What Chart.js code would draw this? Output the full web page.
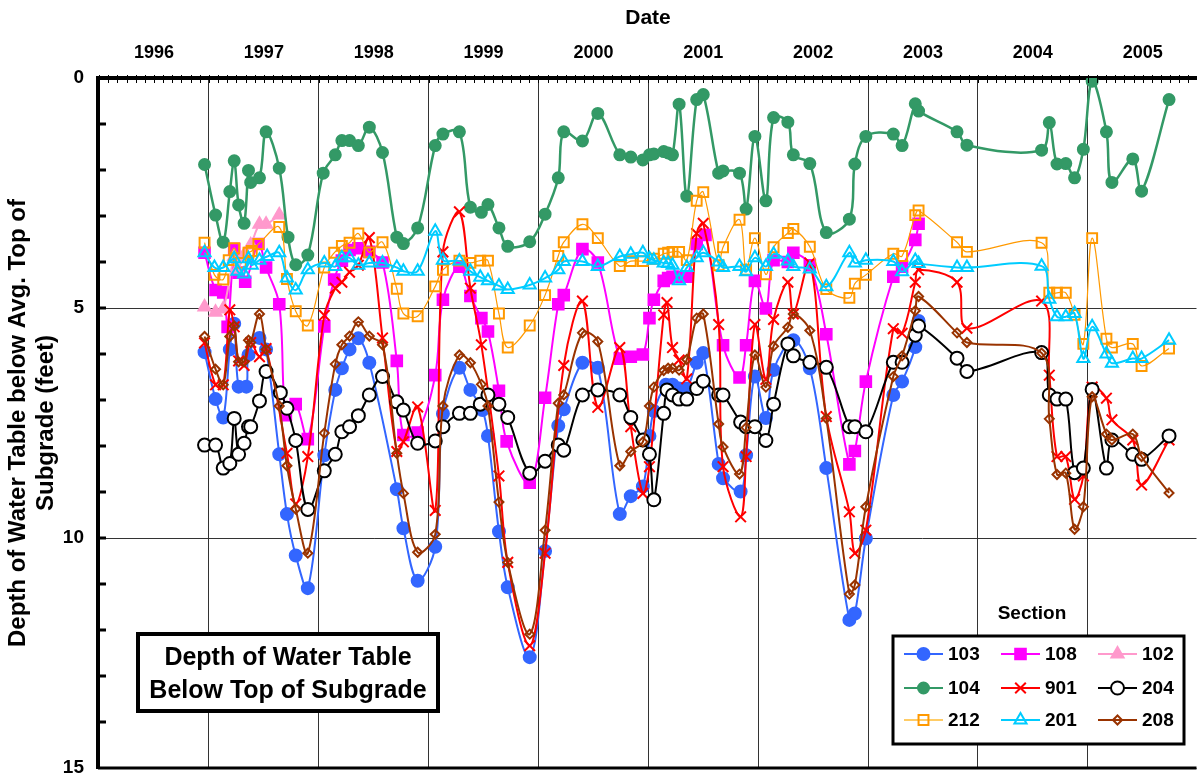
<!DOCTYPE html>
<html>
<head>
<meta charset="utf-8">
<script src="https://cdn.jsdelivr.net/npm/chart.js@4.4.1/dist/chart.umd.min.js"></script>
<style>
  html, body { margin: 0; padding: 0; background: #fff; overflow: hidden; }
  #wrap { width: 1206px; height: 780px; }
</style>
</head>
<body>
<div id="wrap"><canvas id="chart"></canvas></div>
<script>
// ---------- DATA (x = decimal year, y = depth in feet) ----------
const yearLabels = ["1996", "1997", "1998", "1999", "2000", "2001", "2002", "2003", "2004", "2005"];
const depthTicks = [0, 5, 10, 15];

const sec103 = [[1996.96,5.96],[1997.06,6.98],[1997.13,7.38],[1997.19,5.90],[1997.23,5.34],[1997.27,6.71],[1997.34,6.71],[1997.36,6.02],[1997.46,5.65],[1997.52,5.90],[1997.64,8.18],[1997.71,9.48],[1997.79,10.38],[1997.90,11.09],[1998.05,8.20],[1998.15,6.78],[1998.21,6.31],[1998.28,5.90],[1998.36,5.66],[1998.46,6.19],[1998.71,8.94],[1998.77,9.79],[1998.90,10.93],[1999.06,10.19],[1999.13,7.30],[1999.28,6.30],[1999.38,6.78],[1999.49,7.22],[1999.54,7.78],[1999.64,9.86],[1999.72,11.07],[1999.92,12.59],[2000.06,10.28],[2000.18,7.56],[2000.23,7.20],[2000.40,6.19],[2000.54,6.30],[2000.74,9.48],[2000.84,9.09],[2000.95,8.88],[2001.01,7.78],[2001.05,7.24],[2001.16,6.67],[2001.22,6.67],[2001.28,6.75],[2001.35,6.75],[2001.44,6.19],[2001.50,5.98],[2001.64,8.39],[2001.68,8.70],[2001.84,8.99],[2001.89,8.20],[2001.97,6.49],[2002.07,7.39],[2002.14,6.35],[2002.32,5.70],[2002.47,6.31],[2002.62,8.48],[2002.83,11.78],[2002.88,11.64],[2002.98,10.01],[2003.23,6.89],[2003.31,6.60],[2003.43,5.85],[2003.46,5.28]];

const sec108 = [[1996.96,3.80],[1997.06,4.61],[1997.13,4.66],[1997.17,5.41],[1997.23,3.72],[1997.27,4.23],[1997.33,4.43],[1997.45,3.61],[1997.52,4.12],[1997.64,4.92],[1997.70,7.33],[1997.79,7.09],[1997.90,7.85],[1998.05,5.40],[1998.14,4.38],[1998.21,3.97],[1998.28,3.74],[1998.36,3.70],[1998.46,3.78],[1998.58,4.01],[1998.71,6.15],[1998.77,7.76],[1998.90,7.71],[1999.06,6.46],[1999.13,4.82],[1999.28,4.10],[1999.38,4.74],[1999.48,5.22],[1999.54,5.51],[1999.64,6.80],[1999.71,7.90],[1999.92,8.80],[2000.06,6.95],[2000.18,4.92],[2000.23,4.72],[2000.40,3.72],[2000.54,4.01],[2000.74,6.10],[2000.84,6.06],[2000.95,6.01],[2001.01,5.22],[2001.05,4.82],[2001.14,4.41],[2001.18,4.35],[2001.22,4.32],[2001.28,4.32],[2001.35,4.32],[2001.44,3.61],[2001.52,3.41],[2001.68,5.81],[2001.83,6.51],[2001.89,5.81],[2001.97,4.41],[2002.07,5.01],[2002.14,3.96],[2002.27,4.00],[2002.32,3.80],[2002.47,4.07],[2002.62,5.57],[2002.83,8.40],[2002.88,8.11],[2002.98,6.60],[2003.23,4.32],[2003.31,4.10],[2003.43,3.52],[2003.46,3.17]];

const sec102 = [[1996.96,4.98],[1997.06,5.09],[1997.13,5.02],[1997.23,3.88],[1997.26,4.16],[1997.32,3.85],[1997.38,3.63],[1997.46,3.18],[1997.52,3.18],[1997.64,2.98]];

const sec104 = [[1996.96,1.88],[1997.06,2.98],[1997.13,3.57],[1997.19,2.47],[1997.23,1.80],[1997.27,2.76],[1997.32,3.16],[1997.36,2.01],[1997.38,2.27],[1997.46,2.17],[1997.52,1.17],[1997.64,1.96],[1997.72,3.46],[1997.79,4.06],[1997.90,3.85],[1998.04,2.07],[1998.15,1.67],[1998.21,1.36],[1998.28,1.36],[1998.36,1.47],[1998.46,1.07],[1998.58,1.62],[1998.71,3.46],[1998.77,3.60],[1998.90,3.26],[1999.06,1.47],[1999.13,1.22],[1999.28,1.17],[1999.38,2.81],[1999.48,2.92],[1999.54,2.75],[1999.64,3.26],[1999.72,3.66],[1999.92,3.56],[2000.06,2.96],[2000.18,2.17],[2000.23,1.17],[2000.40,1.37],[2000.54,0.77],[2000.74,1.67],[2000.84,1.72],[2000.95,1.78],[2001.01,1.67],[2001.05,1.65],[2001.14,1.60],[2001.18,1.63],[2001.22,1.67],[2001.28,0.57],[2001.35,2.57],[2001.44,0.47],[2001.50,0.36],[2001.64,2.07],[2001.68,2.02],[2001.83,2.07],[2001.89,2.85],[2001.97,1.27],[2002.07,2.67],[2002.14,0.86],[2002.27,0.96],[2002.32,1.67],[2002.47,1.86],[2002.62,3.36],[2002.83,3.07],[2002.88,1.87],[2002.98,1.27],[2003.23,1.22],[2003.31,1.47],[2003.43,0.56],[2003.46,0.72],[2003.81,1.17],[2003.90,1.46],[2004.58,1.57],[2004.65,0.97],[2004.72,1.87],[2004.80,1.86],[2004.88,2.17],[2004.96,1.55],[2005.04,0.07],[2005.17,1.17],[2005.22,2.27],[2005.41,1.76],[2005.49,2.46],[2005.74,0.47]];

const sec901 = [[1996.96,5.76],[1997.06,6.67],[1997.13,6.67],[1997.19,5.04],[1997.23,5.41],[1997.27,6.15],[1997.32,6.25],[1997.38,5.75],[1997.46,6.06],[1997.52,5.88],[1997.71,8.16],[1997.79,9.26],[1997.90,8.23],[1998.05,5.16],[1998.15,4.57],[1998.21,4.44],[1998.28,4.22],[1998.36,4.07],[1998.46,3.47],[1998.58,5.65],[1998.71,8.12],[1998.77,7.91],[1998.90,7.15],[1999.06,9.40],[1999.13,3.78],[1999.28,2.91],[1999.38,4.57],[1999.48,5.80],[1999.64,8.65],[1999.72,10.53],[1999.92,12.34],[2000.06,10.33],[2000.23,6.25],[2000.40,4.85],[2000.54,7.16],[2000.74,5.86],[2000.84,7.58],[2000.95,9.03],[2001.01,8.45],[2001.14,5.15],[2001.17,4.88],[2001.22,5.86],[2001.28,6.13],[2001.35,6.54],[2001.44,3.38],[2001.50,3.16],[2001.64,5.36],[2001.68,8.45],[2001.84,9.54],[2001.89,8.23],[2001.97,5.36],[2002.07,6.55],[2002.14,5.25],[2002.27,4.44],[2002.32,5.13],[2002.47,4.02],[2002.62,7.36],[2002.83,9.43],[2002.88,10.33],[2002.98,9.83],[2003.23,5.45],[2003.31,5.55],[2003.43,4.44],[2003.46,4.17],[2003.81,4.44],[2003.90,5.44],[2004.58,4.85],[2004.65,6.46],[2004.72,8.23],[2004.80,8.23],[2004.88,9.16],[2004.96,8.65],[2005.04,6.72],[2005.17,6.96],[2005.22,7.43],[2005.41,7.87],[2005.49,8.85],[2005.74,7.87]];

const sec204 = [[1996.96,7.98],[1997.06,7.98],[1997.13,8.48],[1997.19,8.38],[1997.23,7.40],[1997.27,8.18],[1997.32,7.94],[1997.36,7.58],[1997.38,7.58],[1997.46,7.02],[1997.52,6.38],[1997.65,6.84],[1997.71,7.18],[1997.79,7.88],[1997.90,9.38],[1998.05,8.54],[1998.15,8.18],[1998.21,7.69],[1998.28,7.58],[1998.36,7.34],[1998.46,6.89],[1998.58,6.49],[1998.71,7.04],[1998.77,7.22],[1998.90,7.94],[1999.06,7.89],[1999.13,7.58],[1999.28,7.29],[1999.38,7.29],[1999.47,7.09],[1999.54,6.89],[1999.64,7.09],[1999.72,7.38],[1999.92,8.59],[2000.06,8.33],[2000.18,7.98],[2000.23,8.09],[2000.40,6.89],[2000.54,6.78],[2000.74,6.89],[2000.84,7.38],[2000.95,7.87],[2001.01,8.18],[2001.05,9.17],[2001.14,7.29],[2001.17,6.78],[2001.22,6.89],[2001.28,6.98],[2001.35,6.98],[2001.44,6.75],[2001.50,6.59],[2001.64,6.89],[2001.68,6.89],[2001.84,7.48],[2001.89,7.58],[2001.97,7.58],[2002.07,7.88],[2002.14,7.09],[2002.27,5.78],[2002.32,6.04],[2002.47,6.18],[2002.62,6.29],[2002.83,7.58],[2002.88,7.58],[2002.98,7.69],[2003.23,6.18],[2003.31,6.18],[2003.43,5.59],[2003.46,5.39],[2003.81,6.09],[2003.90,6.38],[2004.58,5.97],[2004.65,6.89],[2004.72,6.98],[2004.80,6.98],[2004.88,8.58],[2004.96,8.48],[2005.04,6.77],[2005.17,8.48],[2005.22,7.87],[2005.41,8.18],[2005.49,8.29],[2005.74,7.78]];

const sec212 = [[1996.96,3.58],[1997.05,4.28],[1997.13,4.38],[1997.18,3.96],[1997.23,3.70],[1997.29,4.02],[1997.36,3.80],[1997.39,3.76],[1997.45,3.61],[1997.64,3.24],[1997.71,4.37],[1997.79,5.07],[1997.90,5.38],[1998.05,4.12],[1998.14,3.80],[1998.21,3.65],[1998.28,3.58],[1998.36,3.38],[1998.46,3.79],[1998.58,3.57],[1998.71,4.58],[1998.77,5.12],[1998.90,5.18],[1999.06,4.53],[1999.13,4.17],[1999.28,3.97],[1999.38,4.02],[1999.47,3.97],[1999.54,3.97],[1999.64,5.12],[1999.72,5.86],[1999.92,5.38],[2000.06,4.72],[2000.18,3.87],[2000.23,3.57],[2000.40,3.18],[2000.54,3.48],[2000.74,4.09],[2000.84,3.98],[2000.95,3.98],[2001.05,3.93],[2001.14,3.82],[2001.18,3.80],[2001.22,3.78],[2001.28,3.78],[2001.35,3.96],[2001.44,2.67],[2001.50,2.48],[2001.64,4.07],[2001.68,3.68],[2001.83,3.08],[2001.89,4.17],[2001.97,3.48],[2002.07,4.27],[2002.14,3.68],[2002.27,3.37],[2002.32,3.28],[2002.47,3.67],[2002.62,4.59],[2002.83,4.78],[2002.88,4.47],[2002.98,4.28],[2003.23,3.82],[2003.31,3.87],[2003.43,2.98],[2003.46,2.88],[2003.81,3.57],[2003.90,3.78],[2004.58,3.58],[2004.65,4.67],[2004.72,4.67],[2004.80,4.67],[2004.88,5.15],[2004.96,5.78],[2005.04,3.48],[2005.17,5.67],[2005.22,5.86],[2005.41,5.78],[2005.49,6.26],[2005.74,5.88]];

const sec201 = [[1996.96,3.80],[1997.05,4.12],[1997.13,4.12],[1997.23,3.93],[1997.26,4.20],[1997.32,4.26],[1997.36,3.93],[1997.39,4.07],[1997.46,3.96],[1997.53,3.88],[1997.64,3.80],[1997.71,4.35],[1997.79,4.61],[1997.90,4.17],[1998.05,4.02],[1998.15,4.10],[1998.21,3.91],[1998.28,3.91],[1998.36,4.07],[1998.46,4.02],[1998.58,4.02],[1998.71,4.12],[1998.77,4.20],[1998.90,4.20],[1999.06,3.33],[1999.13,3.96],[1999.28,3.98],[1999.38,4.20],[1999.47,4.33],[1999.54,4.41],[1999.64,4.52],[1999.72,4.60],[1999.92,4.50],[2000.06,4.35],[2000.18,4.17],[2000.23,3.99],[2000.40,3.99],[2000.54,4.10],[2000.74,3.88],[2000.84,3.83],[2000.95,3.80],[2001.01,3.93],[2001.05,3.96],[2001.14,4.02],[2001.18,4.03],[2001.22,4.07],[2001.28,4.41],[2001.35,4.12],[2001.44,3.91],[2001.50,3.80],[2001.64,4.00],[2001.68,4.12],[2001.83,4.10],[2001.89,4.21],[2001.97,3.91],[2002.07,4.10],[2002.14,3.83],[2002.27,3.98],[2002.32,4.10],[2002.47,4.15],[2002.62,4.54],[2002.83,3.80],[2002.88,4.02],[2002.98,3.96],[2003.23,3.99],[2003.31,4.21],[2003.43,3.97],[2003.46,4.03],[2003.81,4.12],[2003.90,4.12],[2004.58,4.09],[2004.65,4.81],[2004.72,5.19],[2004.80,5.19],[2004.88,5.12],[2004.96,6.10],[2005.04,5.41],[2005.17,6.00],[2005.22,6.20],[2005.41,6.10],[2005.49,6.10],[2005.74,5.70]];

const sec208 = [[1996.96,5.62],[1997.06,6.33],[1997.13,6.67],[1997.19,5.62],[1997.23,5.39],[1997.27,6.17],[1997.32,6.17],[1997.36,5.70],[1997.38,5.75],[1997.46,5.13],[1997.52,5.90],[1997.64,7.13],[1997.71,8.43],[1997.79,9.37],[1997.90,10.33],[1998.05,7.72],[1998.15,6.22],[1998.21,5.80],[1998.28,5.61],[1998.36,5.30],[1998.46,5.61],[1998.58,5.80],[1998.71,8.16],[1998.77,9.03],[1998.90,10.31],[1999.06,9.92],[1999.13,7.13],[1999.28,6.02],[1999.38,6.19],[1999.48,6.66],[1999.54,7.13],[1999.64,9.22],[1999.72,10.53],[1999.92,12.09],[2000.06,9.83],[2000.18,7.07],[2000.23,6.89],[2000.40,5.54],[2000.54,5.73],[2000.74,8.43],[2000.84,8.12],[2000.95,7.91],[2001.01,7.13],[2001.05,6.72],[2001.14,6.36],[2001.18,6.31],[2001.22,6.31],[2001.28,6.35],[2001.35,6.12],[2001.44,5.22],[2001.50,5.13],[2001.64,7.52],[2001.68,8.02],[2001.83,8.61],[2001.89,7.60],[2001.97,6.02],[2002.07,6.72],[2002.14,5.83],[2002.27,5.42],[2002.32,5.13],[2002.47,5.49],[2002.62,7.40],[2002.83,11.22],[2002.88,11.02],[2002.98,9.32],[2003.23,6.49],[2003.31,6.04],[2003.43,5.06],[2003.46,4.75],[2003.81,5.54],[2003.90,5.75],[2004.58,5.98],[2004.65,7.41],[2004.72,8.62],[2004.80,8.59],[2004.88,9.81],[2004.96,9.32],[2005.04,6.93],[2005.17,7.74],[2005.22,7.87],[2005.41,7.74],[2005.49,8.23],[2005.74,9.02]];

// ---------- SERIES STYLE ----------
const FONT = '"Liberation Sans", Arial, sans-serif';
const series = [
  { label: "103", data: sec103, color: "#3366FF", style: "circle",   r: 6,   fill: "#3366FF", lw: 2 },
  { label: "108", data: sec108, color: "#FF00FF", style: "rect",     r: 7.5, fill: "#FF00FF", lw: 2 },
  { label: "102", data: sec102, color: "#FF99CC", style: "triangle", r: 7,   fill: "#FF99CC", lw: 2 },
  { label: "104", data: sec104, color: "#339966", style: "circle",   r: 5.5, fill: "#339966", lw: 2.5 },
  { label: "901", data: sec901, color: "#FF0000", style: "crossRot", r: 7.5, fill: "#FF0000", lw: 2 },
  { label: "204", data: sec204, color: "#000000", style: "circle",   r: 6.5, fill: "#FFFFFF", lw: 2 },
  { label: "212", data: sec212, color: "#FF9900", style: "rect",     r: 7,   fill: "rgba(0,0,0,0)", lw: 1.2 },
  { label: "201", data: sec201, color: "#00CCFF", style: "triangle", r: 7,   fill: "rgba(0,0,0,0)", lw: 2 },
  { label: "208", data: sec208, color: "#993300", style: "rectRot",  r: 4.5, fill: "rgba(0,0,0,0)", lw: 2 }
];

// ---------- OVERLAY: axis ticks, titles, boxes, legend ----------
const overlay = {
  id: "overlay",
  afterDraw(chart) {
    const { ctx, chartArea: a, scales: { x, y } } = chart;
    ctx.save();
    ctx.strokeStyle = "#000";
    ctx.lineWidth = 1;
    // monthly ticks on the top axis
    for (let m = 0; m <= 120; m++) {
      const px = Math.round(x.getPixelForValue(1996 + m / 12)) + 0.5;
      ctx.beginPath(); ctx.moveTo(px, a.top - 3); ctx.lineTo(px, a.top + 5); ctx.stroke();
    }
    // one-foot ticks on the left axis
    ctx.lineWidth = 3;
    for (let d = 1; d < 15; d++) {
      const py = y.getPixelForValue(d);
      ctx.beginPath(); ctx.moveTo(a.left - 1, py); ctx.lineTo(a.left + 8, py); ctx.stroke();
    }
    // bottom axis line
    ctx.lineWidth = 3;
    ctx.beginPath(); ctx.moveTo(a.left, a.bottom); ctx.lineTo(a.right, a.bottom); ctx.stroke();

    ctx.fillStyle = "#000";
    ctx.textAlign = "center";
    ctx.textBaseline = "middle";
    // x axis title
    ctx.font = "bold 21px " + FONT;
    ctx.fillText("Date", 648, 18);
    // y axis title (two lines)
    ctx.font = "bold 24px " + FONT;
    ctx.save(); ctx.translate(18, 423); ctx.rotate(-Math.PI / 2);
    ctx.fillText("Depth of Water Table below Avg. Top of", 0, 0); ctx.restore();
    ctx.save(); ctx.translate(46, 423); ctx.rotate(-Math.PI / 2);
    ctx.fillText("Subgrade (feet)", 0, 0); ctx.restore();

    // title box
    ctx.fillStyle = "#fff"; ctx.fillRect(138, 634, 300, 77);
    ctx.lineWidth = 4; ctx.strokeRect(138, 634, 300, 77);
    ctx.fillStyle = "#000";
    ctx.font = "bold 25px " + FONT;
    ctx.fillText("Depth of Water Table", 288, 658);
    ctx.fillText("Below Top of Subgrade", 288, 691);

    // legend
    ctx.font = "bold 19px " + FONT;
    ctx.fillText("Section", 1032, 614);
    ctx.fillStyle = "#fff"; ctx.fillRect(893, 636, 291, 108);
    ctx.lineWidth = 3; ctx.strokeRect(893, 636, 291, 108);
    const colX = [904, 1001, 1098];
    const rowY = [654, 688, 720];
    ctx.textAlign = "left";
    series.forEach((s, i) => {
      const cx = colX[i % 3], cy = rowY[Math.floor(i / 3)];
      ctx.strokeStyle = s.label === "212" ? "#FFCC66" : s.color;
      ctx.lineWidth = 2;
      ctx.beginPath(); ctx.moveTo(cx, cy); ctx.lineTo(cx + 39, cy); ctx.stroke();
      ctx.strokeStyle = s.color;
      ctx.fillStyle = s.fill;
      Chart.helpers.drawPoint(ctx, { pointStyle: s.style, radius: s.r, borderWidth: 2, rotation: 0 }, cx + 19.5, cy);
      ctx.fillStyle = "#000";
      ctx.fillText(s.label, cx + 44, cy + 1);
    });
    ctx.restore();
  }
};

// ---------- CHART ----------
new Chart(document.getElementById("chart"), {
  type: "line",
  data: {
    datasets: series.map((s, i) => ({
      label: s.label,
      data: s.data.map(p => ({ x: p[0], y: p[1] })),
      borderColor: s.color,
      borderWidth: s.lw,
      backgroundColor: s.fill,
      pointStyle: s.style,
      pointRadius: s.r,
      pointBorderColor: s.color,
      pointBackgroundColor: s.fill,
      pointBorderWidth: 2,
      tension: 0.35,
      fill: false,
      order: series.length - i
    }))
  },
  options: {
    responsive: true,
    maintainAspectRatio: false,
    animation: false,
    layout: { padding: { top: 0, left: 0, right: 0, bottom: 12 } },
    plugins: { legend: { display: false }, tooltip: { enabled: false } },
    scales: {
      x: {
        type: "linear",
        position: "top",
        min: 1995.99,
        max: 2005.99,
        afterBuildTicks: s => {
          const t = [];
          for (let v = 1996; v <= 2005.5; v += 0.5) t.push({ value: v });
          s.ticks = t;
        },
        afterFit: s => { s.height = 78; s.paddingLeft = 0; s.paddingRight = 0; },
        grid: {
          color: c => (c.tick && Number.isInteger(c.tick.value)) ? "#333" : "rgba(0,0,0,0)",
          lineWidth: 1,
          drawTicks: false
        },
        border: { color: "#000", width: 4 },
        ticks: {
          autoSkip: false,
          maxRotation: 0,
          padding: 14,
          color: "#000",
          font: { family: FONT, size: 18, weight: "bold" },
          callback: v => Number.isInteger(v) ? "" : yearLabels[Math.floor(v) - 1996]
        }
      },
      y: {
        type: "linear",
        reverse: true,
        min: 0,
        max: 15,
        afterBuildTicks: s => { s.ticks = depthTicks.map(v => ({ value: v })); },
        afterFit: s => { s.width = 98; s.paddingTop = 0; s.paddingBottom = 0; },
        grid: { color: "#333", lineWidth: 1, drawTicks: false },
        border: { color: "#000", width: 4 },
        ticks: {
          padding: 14,
          color: "#000",
          font: { family: FONT, size: 19, weight: "bold" }
        }
      }
    }
  },
  plugins: [overlay]
});
</script>
</body>
</html>
